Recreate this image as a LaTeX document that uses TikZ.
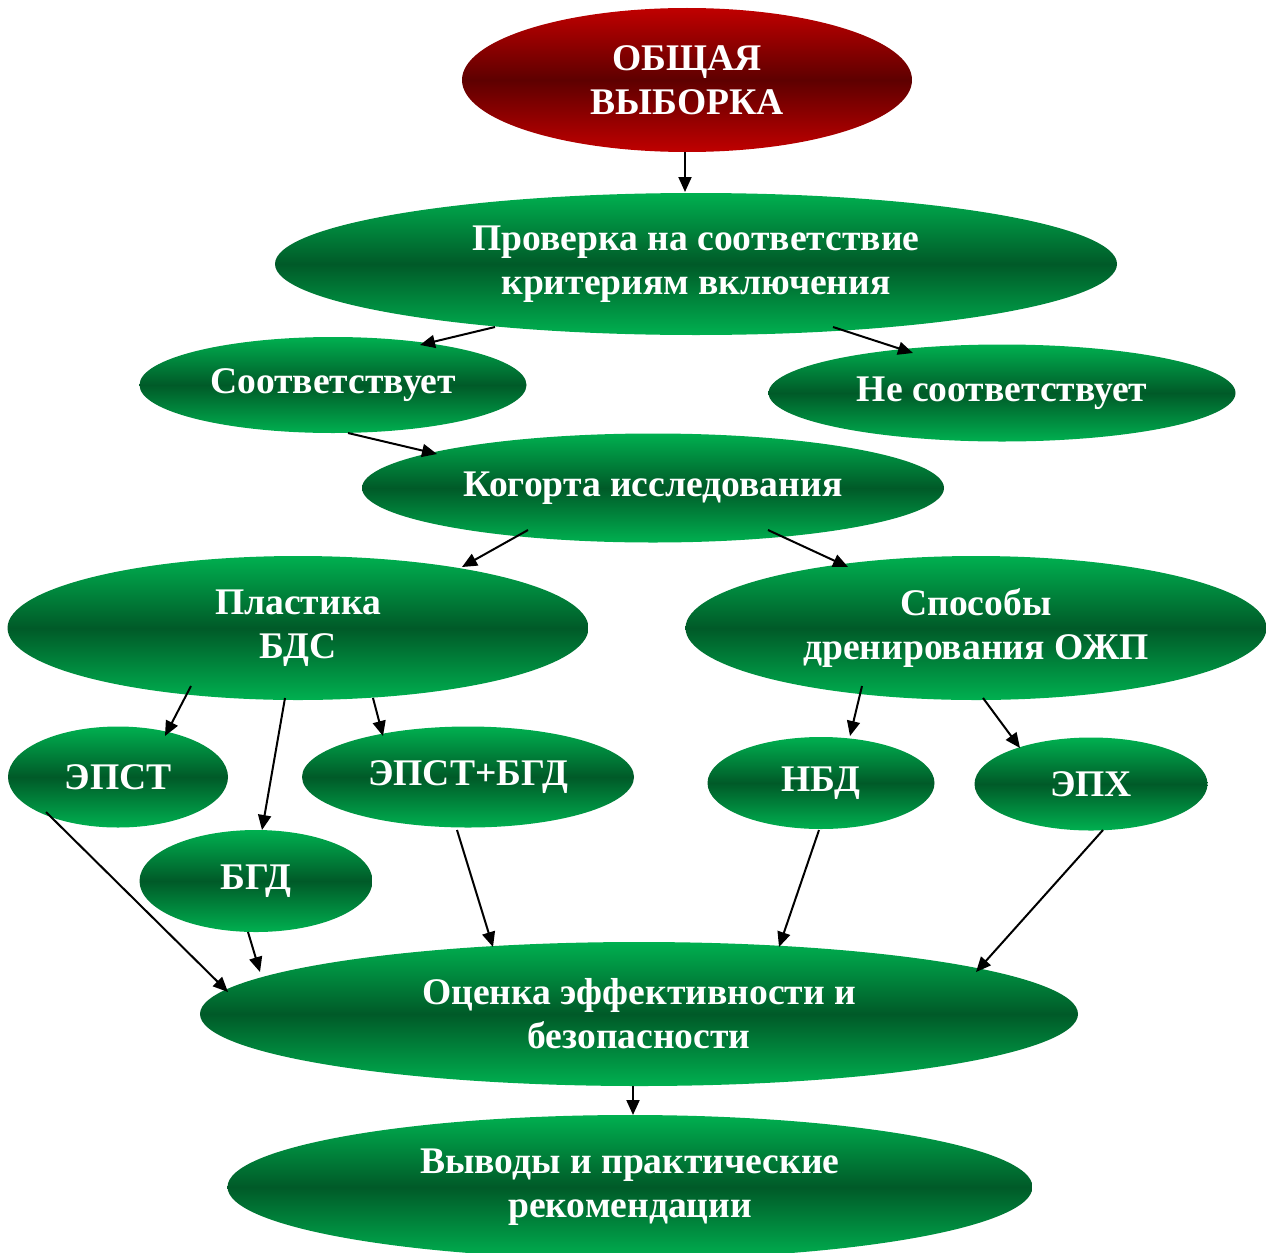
\documentclass[tikz,border=0pt]{standalone}
\usepackage{fontspec}
\setmainfont{Liberation Serif}
\usetikzlibrary{arrows.meta,shapes.geometric}
\definecolor{gLight}{HTML}{00B050}
\definecolor{gDark}{HTML}{005A28}
\definecolor{rLight}{HTML}{C00000}
\definecolor{rDark}{HTML}{5E0000}
\tikzset{
  oval/.style={ellipse, inner sep=0pt, align=center, text=white,
    font=\fontsize{18.8}{22}\selectfont\bfseries,
    top color=gLight, bottom color=gLight, middle color=gDark},
  redoval/.style={oval, top color=rLight, bottom color=rLight, middle color=rDark},
  dims/.style 2 args={minimum width=#1*0.5pt, minimum height=#2*0.5pt},
  link/.style={line width=1pt, -{Triangle[length=7.5pt,width=6.5pt]}},
}
\begin{document}
\begin{tikzpicture}[x=0.5pt,y=-0.5pt]
\clip (0,0) rectangle (1267,1252);
\fill[white] (0,0) rectangle (1267,1252);

\node[redoval, dims={450}{144}] (top) at (687,80) {ОБЩАЯ\\ВЫБОРКА};
\node[oval, dims={842}{142}] (pr) at (696,264) {Проверка на соответствие\\критериям включения};
\node[oval, dims={387}{96}] (so) at (333,385) {Соответствует};
\node[oval, dims={467}{97}] (ns) at (1002,393) {Не соответствует};
\node[oval, dims={582}{109}] (kg) at (653,488) {Когорта исследования};
\node[oval, dims={581}{144}] (pl) at (298,628) {Пластика\\БДС};
\node[oval, dims={581}{144}] (sp) at (976,628) {Способы\\дренирования ОЖП};
\node[oval, dims={220}{101}] (ep) at (118,777) {ЭПСТ};
\node[oval, dims={332}{101}] (eb) at (468,777) {ЭПСТ+БГД};
\node[oval, dims={233}{102}] (bg) at (256,881) {БГД};
\node[oval, dims={227}{92}] (nb) at (821,783) {НБД};
\node[oval, dims={233}{93}] (ex) at (1091,784) {ЭПХ};
\node[oval, dims={878}{144}] (oc) at (639,1014) {Оценка эффективности и\\безопасности};
\node[oval, dims={805}{144}] (vy) at (630,1187) {Выводы и практические\\рекомендации};

\draw[link] ([shift={(-2,72)}]top.center) -- ([shift={(-11,-72)}]pr.center);
\draw[link] ([shift={(-201,63)}]pr.center) -- ([shift={(87,-40)}]so.center);
\draw[link] ([shift={(137,63)}]pr.center) -- ([shift={(-89,-40)}]ns.center);
\draw[link] ([shift={(15,48)}]so.center) -- ([shift={(-216,-34)}]kg.center);
\draw[link] ([shift={(-125,42)}]kg.center) -- ([shift={(164,-61)}]pl.center);
\draw[link] ([shift={(115,42)}]kg.center) -- ([shift={(-128,-61)}]sp.center);
\draw[link] ([shift={(-107,58)}]pl.center) -- ([shift={(47,-41)}]ep.center);
\draw[link] ([shift={(-13,70)}]pl.center) -- ([shift={(6,-51)}]bg.center);
\draw[link] ([shift={(75,70)}]pl.center) -- ([shift={(-85,-41)}]eb.center);
\draw[link] ([shift={(-114,58)}]sp.center) -- ([shift={(29,-47)}]nb.center);
\draw[link] ([shift={(7,70)}]sp.center) -- ([shift={(-71,-36)}]ex.center);
\draw[link] ([shift={(-72,35)}]ep.center) -- ([shift={(-411,-22)}]oc.center);
\draw[link] ([shift={(-8,51)}]bg.center) -- ([shift={(-379,-42)}]oc.center);
\draw[link] ([shift={(-11,53)}]eb.center) -- ([shift={(-146,-67)}]oc.center);
\draw[link] ([shift={(-2,47)}]nb.center) -- ([shift={(140,-67)}]oc.center);
\draw[link] ([shift={(12,46)}]ex.center) -- ([shift={(337,-42)}]oc.center);
\draw[link] ([shift={(-6,72)}]oc.center) -- ([shift={(3,-72)}]vy.center);
\end{tikzpicture}
\end{document}
